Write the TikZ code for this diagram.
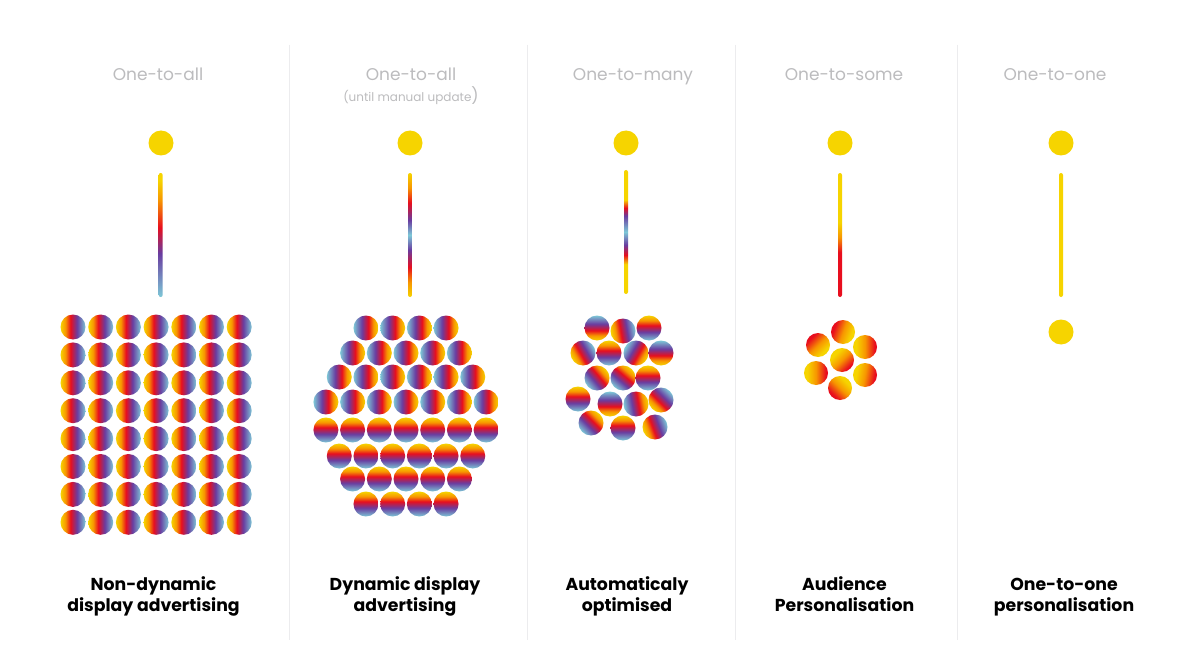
\documentclass[tikz,border=0pt]{standalone}
\usepackage{fontspec}
\setmainfont{Poppins}
\definecolor{cyellow}{RGB}{246,212,0}
\definecolor{corange}{RGB}{247,150,0}
\definecolor{cred}{RGB}{232,14,30}
\definecolor{cpurple}{RGB}{105,60,160}
\definecolor{cblue}{RGB}{125,200,215}
\definecolor{hdrgray}{RGB}{188,188,190}
\definecolor{sepgray}{RGB}{236,236,238}
\pgfdeclareverticalshading{rbv}{100bp}{color(0bp)=(cblue); color(25bp)=(cblue); color(42bp)=(cpurple); color(55bp)=(cred); color(65bp)=(corange); color(75bp)=(cyellow); color(100bp)=(cyellow)}
\pgfdeclareverticalshading{yrv}{100bp}{color(0bp)=(cred); color(30bp)=(cred); color(50bp)=(corange); color(68bp)=(cyellow); color(100bp)=(cyellow)}
\pgfdeclareverticalshading{lineA}{100bp}{color(0bp)=(cblue); color(25bp)=(cblue); color(42.6bp)=(cpurple); color(53bp)=(cred); color(64bp)=(corange); color(72bp)=(cyellow); color(100bp)=(cyellow)}
\pgfdeclareverticalshading{lineB}{100bp}{color(0bp)=(cyellow); color(25bp)=(cyellow); color(31bp)=(corange); color(37bp)=(cred); color(44bp)=(cpurple); color(50bp)=(cblue); color(56bp)=(cpurple); color(63bp)=(cred); color(69bp)=(corange); color(75bp)=(cyellow); color(100bp)=(cyellow)}
\pgfdeclareverticalshading{lineC}{100bp}{color(0bp)=(cyellow); color(37bp)=(cyellow); color(40.7bp)=(cred); color(44.8bp)=(cpurple); color(50bp)=(cblue); color(56.5bp)=(cpurple); color(59.7bp)=(cred); color(63bp)=(cyellow); color(100bp)=(cyellow)}
\pgfdeclareverticalshading{lineD}{100bp}{color(0bp)=(cred); color(43bp)=(cred); color(49bp)=(corange); color(55bp)=(cyellow); color(100bp)=(cyellow)}
\tikzset{
  hdr/.style={text=hdrgray, font=\fontsize{17}{20}\selectfont, inner sep=0pt, anchor=base},
  lbl/.style={text=black, font=\fontsize{17.3}{21}\selectfont\bfseries, inner sep=0pt, anchor=base},
  sep/.style={draw=sepgray, line width=1pt},
  dot/.style={fill=cyellow},
}
\newcommand{\gline}[2]{\shade[shading=#2, rounded corners=2pt] (#1-2,173) rectangle (#1+2,297);}
\begin{document}
\begin{tikzpicture}[x=1pt,y=-1pt]
\useasboundingbox (0,0) rectangle (1200,666);
\fill[white] (0,0) rectangle (1200,666);
% separators
\foreach \sx in {289,527,735,957} { \draw[sep] (\sx,45) -- (\sx,640); }
% headers
\node[hdr] (h1) at (158,81) {One-to-all};
\node[hdr] (h2) at (411,81) {One-to-all};
\node[hdr] (h2b) at (411,102) {\fontsize{12}{13}\selectfont(until manual update\fontsize{16}{17}\selectfont)};
\node[hdr] (h3) at (633,81) {One-to-many};
\node[hdr] (h4) at (844,81) {One-to-some};
\node[hdr] (h5) at (1055,81) {One-to-one};
% top dots
\foreach \dx in {161,410,626,840,1061} { \fill[dot] (\dx,143) circle (12.5); }
% lines
\gline{160.7}{lineA}
\gline{410}{lineB}
\shade[shading=lineC, rounded corners=2pt] (624,170) rectangle (628,294);
\gline{840}{lineD}
\fill[cyellow, rounded corners=2pt] (1059,173) rectangle (1063,297);
\fill[dot] (1061,332) circle (12.5);
% column 1 grid
\foreach \i in {0,...,6} {
  \foreach \j in {0,...,7} {
    \shade[shading=rbv, shading angle=90] ({73+27.7*\i},{327+27.9*\j}) circle (12.5);
  }
}
% column 2 hexagon
\foreach \n/\yy/\ang in {4/328/-90, 5/353/-90, 6/377/-90, 7/402/-90, 7/430/0, 6/456/0, 5/479/0, 4/504/0} {
  \foreach \i in {1,...,\n} {
    \shade[shading=rbv, shading angle=\ang] ({406+(\i-(\n+1)/2)*26.7},\yy) circle (12.5);
  }
}
% column 3 cluster
\foreach \cx/\cy/\ang in {597/328/180, 623/331/100, 649/328/0,
  583/353/120, 609/353/0, 636/353/-120, 661/353/180,
  597/378/-50, 623/378/-40, 648/378/0,
  578/399/0, 610/404/180, 636/404/-80, 661/400/135,
  591/423/-45, 623/428/0, 655/427/110} {
  \shade[shading=rbv, shading angle=\ang] (\cx,\cy) circle (12.5);
}
% column 4 cluster
\foreach \cx/\cy/\ang in {843/332/-110, 818/345/-135, 865/347/90, 842/360/45, 816/373/90, 865/375/80, 840/388/-45} {
  \shade[shading=yrv, shading angle=\ang] (\cx,\cy) circle (12);
}
% bottom labels
\node[lbl] (l1a) at (153.5,590) {Non-dynamic};
\node[lbl] (l1b) at (153.5,611) {display advertising};
\node[lbl] (l2a) at (405,590) {Dynamic display};
\node[lbl] (l2b) at (405,611) {advertising};
\node[lbl] (l3a) at (627,590) {Automaticaly};
\node[lbl] (l3b) at (627,611) {optimised};
\node[lbl] (l4a) at (844.5,590) {Audience};
\node[lbl] (l4b) at (844.5,611) {Personalisation};
\node[lbl] (l5a) at (1064,590) {One-to-one};
\node[lbl] (l5b) at (1064,611) {personalisation};
\end{tikzpicture}
\end{document}
